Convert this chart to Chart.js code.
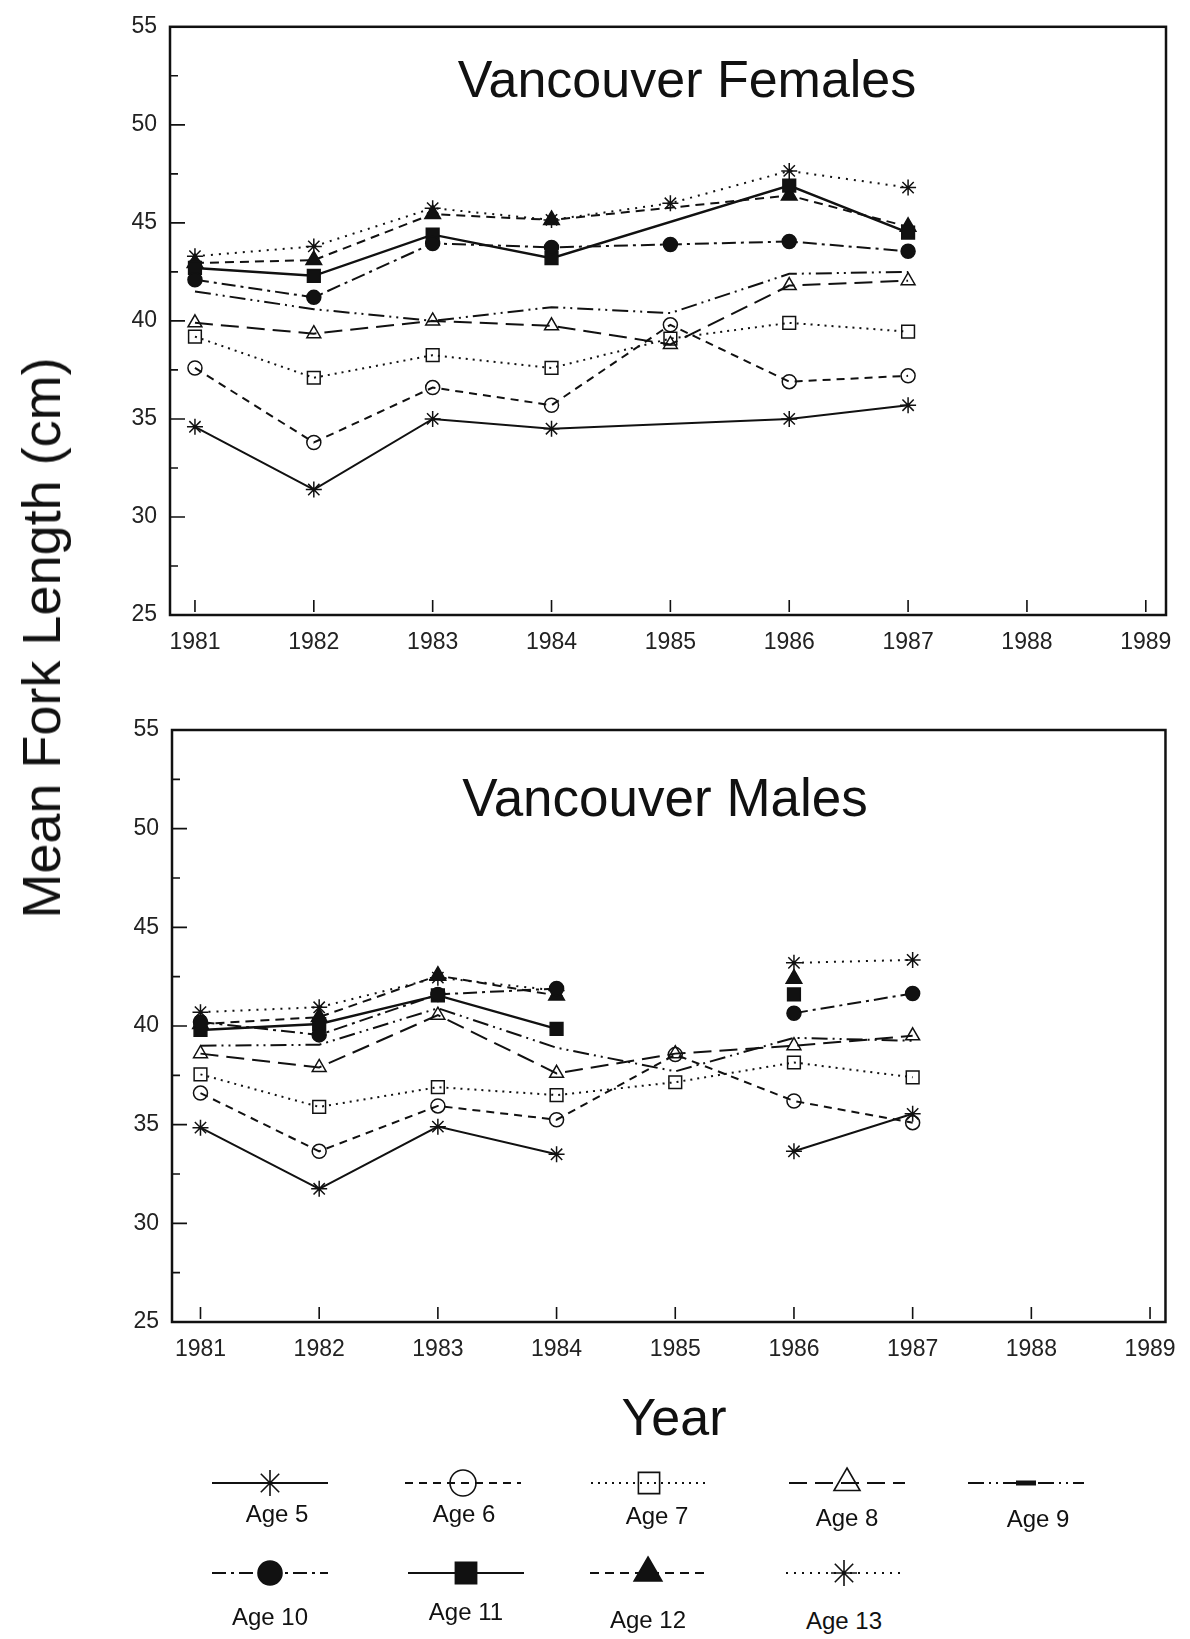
<!DOCTYPE html>
<html>
<head>
<meta charset="utf-8">
<title>Vancouver mean fork length</title>
<script src="https://cdn.jsdelivr.net/npm/chart.js@4.4.1/dist/chart.umd.min.js"></script>
<style>
  body { margin: 0; background: #fff; width: 1190px; height: 1639px; position: relative; overflow: hidden;
         font-family: "Liberation Sans", Arial, sans-serif; color: #111; }
  canvas { position: absolute; left: 0; display: block; }
  .panel-title { position: absolute; font-size: 52px; line-height: 52px; white-space: nowrap; transform: translateX(-50%); }
  .axis-title { position: absolute; font-size: 50px; line-height: 50px; white-space: nowrap; }
  .leg { position: absolute; transform: translateX(-50%); text-align: center; }
  .leg span { display: block; font-size: 24px; white-space: nowrap; }
</style>
</head>
<body>
<canvas id="females" width="1190" height="680" style="top:0"></canvas>
<canvas id="males" width="1190" height="720" style="top:680px"></canvas>

<div class="panel-title" style="left:687px; top:53px">Vancouver Females</div>
<div class="panel-title" style="left:665px; top:772px; font-size:53px">Vancouver Males</div>
<div class="axis-title" style="left:41px; top:638px; transform: translate(-50%, -50%) rotate(-90deg); font-size:54px">Mean Fork Length (cm)</div>
<div class="axis-title" style="left:674px; top:1417px; transform: translate(-50%, -50%); font-size:52px">Year</div>
<div id="legend"></div>

<script>
// years with data, and the axis ticks
const years = [1981, 1982, 1983, 1984, 1985, 1986, 1987];
const xTicks = [1981, 1982, 1983, 1984, 1985, 1986, 1987, 1988, 1989];
const yTicks = [25, 30, 35, 40, 45, 50, 55];
const yMinorTicks = [27.5, 32.5, 37.5, 42.5, 47.5, 52.5];
const ageLabels = ['Age 5', 'Age 6', 'Age 7', 'Age 8', 'Age 9', 'Age 10', 'Age 11', 'Age 12', 'Age 13'];

// Vancouver females, mean fork length (cm)
const femAge5  = [34.6, 31.4, 35.0, 34.5, null, 35.0, 35.7];
const femAge6  = [37.6, 33.8, 36.6, 35.7, 39.8, 36.9, 37.2];
const femAge7  = [39.2, 37.1, 38.25, 37.6, 39.1, 39.9, 39.45];
const femAge8  = [39.9, 39.35, 40.0, 39.75, 38.8, 41.8, 42.05];
const femAge9  = [41.5, 40.6, 40.0, 40.7, 40.4, 42.4, 42.5];
const femAge10 = [42.1, 41.2, 43.95, 43.75, 43.9, 44.05, 43.55];
const femAge11 = [42.7, 42.3, 44.4, 43.2, null, 46.9, 44.5];
const femAge12 = [42.95, 43.1, 45.45, 45.15, null, 46.4, 44.8];
const femAge13 = [43.3, 43.8, 45.75, 45.15, 46.0, 47.65, 46.8];

// Vancouver males, mean fork length (cm)
const maleAge5  = [34.85, 31.75, 34.9, 33.5, null, 33.65, 35.55];
const maleAge6  = [36.6, 33.65, 35.95, 35.25, 38.55, 36.2, 35.1];
const maleAge7  = [37.55, 35.9, 36.9, 36.5, 37.15, 38.15, 37.4];
const maleAge8  = [38.6, 37.9, 40.55, 37.6, 38.6, 39.0, 39.5];
const maleAge9  = [39.0, 39.05, 40.9, 38.9, 37.7, 39.4, 39.25];
const maleAge10 = [40.2, 39.55, 41.6, 41.9, null, 40.65, 41.65];
const maleAge11 = [39.8, 40.1, 41.55, 39.85, null, 41.6, null];
const maleAge12 = [40.1, 40.45, 42.55, 41.55, null, 42.4, null];
const maleAge13 = [40.7, 40.95, 42.45, 41.8, null, 43.2, 43.35];

const femaleSeries = [femAge5, femAge6, femAge7, femAge8, femAge9, femAge10, femAge11, femAge12, femAge13];
const maleSeries = [maleAge5, maleAge6, maleAge7, maleAge8, maleAge9, maleAge10, maleAge11, maleAge12, maleAge13];

// line/marker look per age class
const dashes = [[], [8, 6], [2, 5], [18, 8], [16, 5, 2, 5, 2, 5], [14, 5, 3, 5], [], [9, 6], [2, 6]];
const markers = ['star', 'circle', 'rect', 'triangle', 'line', 'circle', 'rect', 'triangle', 'star'];
const filled = [false, false, false, false, true, true, true, true, false];
const markerSize = [8, 7, 9, 8, 0, 7, 9, 9, 8];
const legendSize = [13, 13, 15, 15, 10, 12, 15, 16, 13];

const FONT = '"Liberation Sans", Arial, sans-serif';

// box around the plot + inward ticks
const frameTicks = {
  id: 'frameTicks',
  afterDraw(chart) {
    const { ctx, chartArea: a, scales: { x, y } } = chart;
    ctx.save();
    ctx.strokeStyle = '#111';
    ctx.lineWidth = 2.5;
    ctx.strokeRect(a.left, a.top, a.right - a.left, a.bottom - a.top);
    ctx.lineWidth = 1.6;
    ctx.beginPath();
    yTicks.forEach(v => {
      const py = y.getPixelForValue(v);
      ctx.moveTo(a.left, py); ctx.lineTo(a.left + 15, py);
    });
    yMinorTicks.forEach(v => {
      const py = y.getPixelForValue(v);
      ctx.moveTo(a.left, py); ctx.lineTo(a.left + 8, py);
    });
    xTicks.forEach(v => {
      const px = x.getPixelForValue(v);
      ctx.moveTo(px, a.bottom - 3); ctx.lineTo(px, a.bottom - 15);
    });
    ctx.stroke();
    ctx.restore();
  }
};

function makeDatasets(series, spanGaps) {
  return series.map((vals, i) => ({
    label: ageLabels[i],
    data: vals.map((v, j) => ({ x: years[j], y: v })),
    borderColor: '#111',
    borderWidth: i === 6 ? 2.4 : 2,
    borderDash: dashes[i],
    backgroundColor: filled[i] ? '#111' : 'rgba(0,0,0,0)',
    pointStyle: markers[i],
    pointRadius: markerSize[i],
    pointBorderWidth: 1.5,
    pointBorderColor: '#111',
    pointBackgroundColor: filled[i] ? '#111' : 'rgba(0,0,0,0)',
    tension: 0,
    spanGaps: spanGaps
  }));
}

function makeChart(id, series, spanGaps, box) {
  const canvas = document.getElementById(id);
  new Chart(canvas, {
    type: 'line',
    data: { datasets: makeDatasets(series, spanGaps) },
    options: {
      responsive: false,
      animation: false,
      layout: { padding: { top: box.top, right: box.right, left: 0, bottom: 0 } },
      plugins: { legend: { display: false }, tooltip: { enabled: false } },
      scales: {
        x: {
          type: 'linear',
          min: box.xmin,
          max: box.xmax,
          afterBuildTicks: s => { s.ticks = xTicks.map(v => ({ value: v })); },
          afterFit: s => { s.height = box.xh; },
          grid: { display: false, drawTicks: false },
          border: { display: false },
          ticks: { padding: 14, color: '#222', font: { family: FONT, size: 23 }, callback: v => String(v), maxRotation: 0, autoSkip: false }
        },
        y: {
          min: 25,
          max: 55,
          afterBuildTicks: s => { s.ticks = yTicks.map(v => ({ value: v })); },
          afterFit: s => { s.width = box.yw; },
          grid: { display: false, drawTicks: false },
          border: { display: false },
          ticks: { padding: 13, color: '#222', font: { family: FONT, size: 23 } }
        }
      }
    },
    plugins: [frameTicks]
  });
}

makeChart('females', femaleSeries, true, { top: 19, right: 24, xh: 65, yw: 170, xmin: 1980.79, xmax: 1989.17 });
makeChart('males', maleSeries, false, { top: 50, right: 24, xh: 78, yw: 172, xmin: 1980.76, xmax: 1989.13 });

// legend: symbol sample above label, two rows
const legendPos = [
  [270, 1483, 277, 1500], [463, 1483, 464, 1500], [649, 1483, 657, 1502], [847, 1483, 847, 1504], [1026, 1483, 1038, 1505],
  [270, 1573, 270, 1603], [466, 1573, 466, 1598], [648, 1573, 648, 1606], [844, 1573, 844, 1607]
];
const legend = document.getElementById('legend');
ageLabels.forEach((name, i) => {
  const [sx, sy, lx, ly] = legendPos[i];
  const c = document.createElement('canvas');
  c.width = 120; c.height = 40;
  c.style.left = (sx - 60) + 'px';
  c.style.top = (sy - 20) + 'px';
  legend.appendChild(c);
  const g = c.getContext('2d');
  g.strokeStyle = '#111';
  g.lineWidth = 2;
  g.setLineDash(dashes[i]);
  g.beginPath(); g.moveTo(2, 20); g.lineTo(118, 20); g.stroke();
  g.setLineDash([]);
  g.fillStyle = filled[i] ? '#111' : 'rgba(0,0,0,0)';
  g.lineWidth = i === 4 ? 5 : 1.6;
  if (Chart.helpers && Chart.helpers.drawPoint) {
    Chart.helpers.drawPoint(g, { pointStyle: markers[i], radius: legendSize[i], rotation: 0, borderWidth: g.lineWidth }, 60, 20);
  }
  const lab = document.createElement('div');
  lab.className = 'leg';
  lab.style.left = lx + 'px';
  lab.style.top = ly + 'px';
  lab.innerHTML = '<span>' + name + '</span>';
  legend.appendChild(lab);
});
</script>
</body>
</html>
